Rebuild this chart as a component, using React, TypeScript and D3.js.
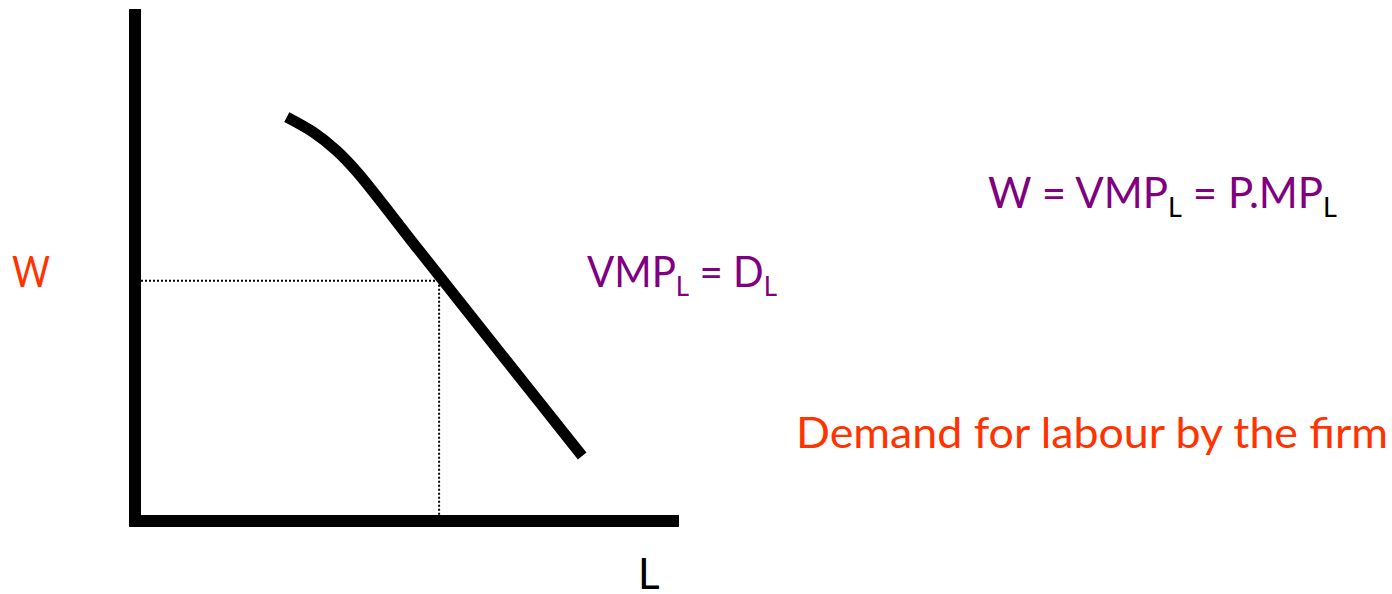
import React from "react";
import * as d3 from "d3";

// Demand curve (VMP_L = D_L) in abstract units: L (x) vs W (y)
const curveL = [2.79, 3.27, 3.71, 4.08, 5.24, 6.71, 8.22];
const curveW = [7.89, 7.6, 7.23, 6.82, 5.26, 3.29, 1.27];
// Equilibrium wage / labour point
const eqL = [5.59];
const eqW = [4.69];

const W = 1392;
const H = 594;
const RED = "#FF3300";
const PURPLE = "#800080";
const FONT = "Lato, 'Open Sans', sans-serif";

export default function App() {
  const x = d3.scaleLinear().domain([0, 10]).range([135, 679]);
  const y = d3.scaleLinear().domain([0, 10]).range([521, 9]);
  const pts: [number, number][] = curveL.map((l, i) => [l, curveW[i]]);
  const line = d3
    .line<[number, number]>()
    .x((d) => x(d[0]))
    .y((d) => y(d[1]))
    .curve(d3.curveCatmullRom.alpha(0.5));

  return (
    <svg
      width={W}
      height={H}
      style={{ position: "absolute", left: 0, top: 0, background: "#fff" }}
      fontFamily={FONT}
    >
      {/* dotted guides */}
      <line
        x1={x(0) + 6}
        x2={x(eqL[0])}
        y1={y(eqW[0])}
        y2={y(eqW[0])}
        stroke="#000"
        strokeWidth={2}
        strokeDasharray="2,2"
      />
      <line
        x1={x(eqL[0])}
        x2={x(eqL[0])}
        y1={y(eqW[0])}
        y2={y(0) - 6}
        stroke="#000"
        strokeWidth={2}
        strokeDasharray="2,2"
      />
      {/* axes */}
      <line x1={x(0)} x2={x(0)} y1={y(10)} y2={y(0) + 6} stroke="#000" strokeWidth={12} />
      <line x1={x(0)} x2={x(10)} y1={y(0)} y2={y(0)} stroke="#000" strokeWidth={12} />
      {/* demand curve */}
      <path d={line(pts) || ""} fill="none" stroke="#000" strokeWidth={11} />

      {/* axis labels */}
      <text x={12} y={287} fontSize={42} fill={RED} textLength={38} lengthAdjust="spacingAndGlyphs">
        W
      </text>
      <text x={638} y={589} fontSize={42} fill="#000">
        L
      </text>

      {/* curve label */}
      <text x={587} y={287} fontSize={42} fill={PURPLE} textLength={190} lengthAdjust="spacingAndGlyphs">
        VMP
        <tspan fontSize={27} dy={9}>L</tspan>
        <tspan dy={-9}> = D</tspan>
        <tspan fontSize={27} dy={9}>L</tspan>
      </text>

      {/* formula */}
      <text x={988} y={208} fontSize={42} fill={PURPLE} textLength={349} lengthAdjust="spacingAndGlyphs">
        W = VMP
        <tspan fontSize={27} dy={9} fill="#000">L</tspan>
        <tspan dy={-9}> = P.MP</tspan>
        <tspan fontSize={27} dy={9} fill="#000">L</tspan>
      </text>

      {/* caption */}
      <text x={796} y={448} fontSize={42} fill={RED} textLength={592} lengthAdjust="spacingAndGlyphs">
        Demand for labour by the firm
      </text>
    </svg>
  );
}
